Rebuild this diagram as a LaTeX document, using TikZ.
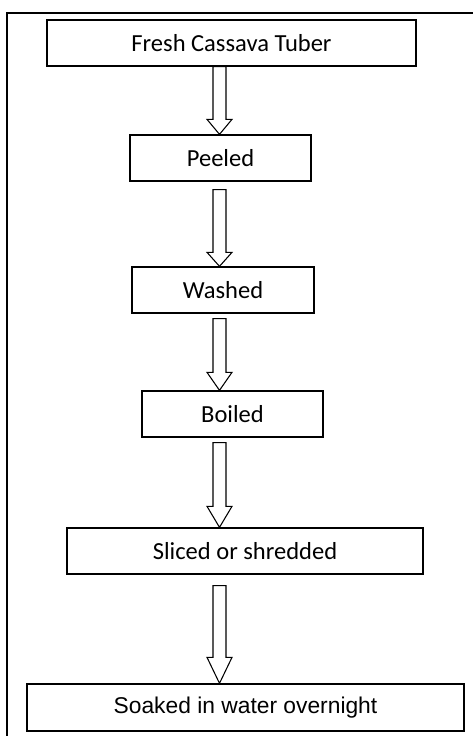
\documentclass[tikz,border=0pt]{standalone}
\usepackage{fontspec}
\newfontfamily\calib{Carlito}
\newfontfamily\arial{Liberation Sans}
\usetikzlibrary{calc}
\tikzset{
  stepbox/.style={draw, line width=1pt, inner sep=0pt, minimum height=34.5pt,
    font=\calib\fontsize{18.4}{22}\selectfont},
  arrowline/.style={line width=0.8pt, line join=miter},
}
% hollow block arrow: top, tip, head length
\newcommand\blockarrow[3]{%
  \draw[arrowline] ($(#1)+(-6.5,0)$) -- ($(#2)+(-6.5,-#3)$) -- ($(#2)+(-12.5,-#3)$) -- (#2)
    -- ($(#2)+(12.5,-#3)$) -- ($(#2)+(6.5,-#3)$) -- ($(#1)+(6.5,0)$) -- cycle;}
\begin{document}
\begin{tikzpicture}[x=0.75pt, y=-0.75pt]
\useasboundingbox (0,0) rectangle (472,736);
\draw[line width=0.8pt] (7,13) rectangle (520,780);
\node[stepbox, minimum width=276.75pt] (fresh) at (231.5,43) {Fresh Cassava Tuber};
\node[stepbox, minimum width=135.75pt] (peeled) at (220.5,158) {Peeled};
\node[stepbox, minimum width=136.5pt] (washed) at (223,290) {Washed};
\node[stepbox, minimum width=135.75pt] (boiled) at (232.5,414) {Boiled};
\node[stepbox, minimum width=267pt] (sliced) at (245,551) {Sliced or shredded};
\node[stepbox, minimum width=327.75pt, minimum height=35.25pt, font=\arial\fontsize{17.1}{20}\selectfont] (soaked) at (245.5,707.5) {Soaked in water overnight};
\coordinate (ax) at (219.5,0);
\coordinate (s1) at (fresh.south -| ax);
\coordinate (s2) at ($(peeled.south -| ax)+(0,8)$);
\coordinate (s3) at ($(washed.south -| ax)+(0,5)$);
\coordinate (s4) at ($(boiled.south -| ax)+(0,5)$);
\coordinate (s5) at ($(sliced.south -| ax)+(0,11)$);
\blockarrow{s1}{peeled.north -| ax}{15}
\blockarrow{s2}{washed.north -| ax}{14}
\blockarrow{s3}{boiled.north -| ax}{18}
\blockarrow{s4}{sliced.north -| ax}{21}
\blockarrow{s5}{soaked.north -| ax}{26}
\end{tikzpicture}
\end{document}
